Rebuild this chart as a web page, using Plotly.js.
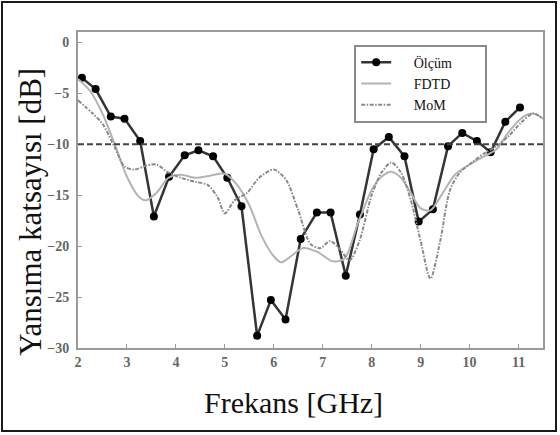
<!DOCTYPE html>
<html>
<head>
<meta charset="utf-8">
<script src="https://cdn.plot.ly/plotly-3.0.1.min.js"></script>
<style>
  html, body { margin: 0; padding: 0; background: #fff; }
  #wrap { position: relative; width: 560px; height: 435px; }
  #chart { width: 560px; height: 435px; }
  #frame { position: absolute; left: 1px; top: 1px; width: 556px; height: 431px;
           border: 2px solid #1a1a1a; box-sizing: border-box; pointer-events: none; }
</style>
</head>
<body>
<div id="wrap">
  <div id="chart"></div>
  <div id="frame"></div>
</div>
<script>
// Measured reflection coefficient (dB) vs frequency (GHz)
const freqOlcum = [2.08, 2.36, 2.67, 2.95, 3.27, 3.55, 3.86, 4.18, 4.46, 4.76, 5.05, 5.34, 5.66, 5.94, 6.24, 6.55,
                   6.88, 7.16, 7.47, 7.76, 8.04, 8.35, 8.67, 8.96, 9.25, 9.56, 9.85, 10.15, 10.43, 10.73, 11.03];
const olcum = [-3.5, -4.6, -7.3, -7.5, -9.7, -17.1, -13.2, -11.1, -10.6, -11.2, -13.3, -16.1, -28.8, -25.3, -27.2, -19.3,
               -16.7, -16.7, -22.9, -16.9, -10.5, -9.3, -11.2, -17.6, -16.4, -10.2, -8.9, -9.7, -10.8, -7.8, -6.4];

// FDTD simulation
const freqFdtd = [2.0, 2.25, 2.5, 2.75, 3.0, 3.25, 3.4, 3.6, 3.85, 4.1, 4.4, 4.7, 5.0, 5.25, 5.5, 5.75, 6.0, 6.15,
                  6.35, 6.6, 6.9, 7.2, 7.45, 7.7, 8.0, 8.2, 8.4, 8.6, 8.8, 9.0, 9.2, 9.45, 9.7, 10.0, 10.3, 10.55,
                  10.8, 11.1, 11.3, 11.5];
const fdtd = [-3.6, -4.8, -7.0, -10.0, -13.2, -15.2, -15.5, -14.8, -13.3, -13.0, -13.3, -13.1, -12.9, -14.0, -16.0,
              -19.0, -21.0, -21.6, -21.0, -20.2, -20.6, -21.5, -21.2, -18.0, -14.5, -13.2, -12.7, -13.3, -14.8, -16.3,
              -16.5, -14.8, -13.0, -12.0, -11.2, -10.5, -8.8, -7.3, -7.0, -7.5];

// MoM simulation
const freqMom = [2.0, 2.3, 2.5, 2.75, 2.95, 3.15, 3.4, 3.6, 3.85, 4.1, 4.4, 4.65, 4.85, 5.0, 5.2, 5.45, 5.7, 6.0,
                 6.25, 6.5, 6.75, 6.95, 7.15, 7.35, 7.55, 7.75, 8.0, 8.2, 8.4, 8.6, 8.8, 9.0, 9.2, 9.4, 9.6, 9.8,
                 10.05, 10.3, 10.55, 10.8, 11.05, 11.3, 11.5];
const mom = [-5.7, -7.0, -8.0, -10.3, -12.2, -12.5, -12.1, -12.0, -12.8, -13.3, -13.7, -14.0, -15.2, -16.8, -15.5,
             -14.8, -13.3, -12.5, -13.5, -16.5, -19.8, -20.2, -19.5, -20.3, -21.4, -19.5, -15.0, -12.8, -11.8, -12.8,
             -15.5, -19.5, -23.2, -19.5, -14.5, -12.8, -11.8, -10.9, -10.2, -9.2, -7.9, -7.0, -7.5];

// -10 dB matching threshold
const threshold = -10;

const xTitle = 'Frekans [GHz]';
const yTitle = 'Yansıma katsayısı [dB]';

const serif = '"Liberation Serif", "Times New Roman", serif';

// legend labels are padded with no-break spaces to open a gap after the line sample
const pad = (s) => '\u00a0'.repeat(5) + s + '\u00a0'.repeat(8);

const traces = [
  {
    x: freqOlcum, y: olcum, name: pad('Ölçüm'), type: 'scatter', mode: 'lines+markers',
    line: { color: '#353535', width: 2.5 },
    marker: { color: '#000', size: 8 }
  },
  {
    x: freqFdtd, y: fdtd, name: pad('FDTD'), type: 'scatter', mode: 'lines',
    line: { color: '#b4b4b4', width: 2, shape: 'spline', smoothing: 0.8 }
  },
  {
    x: freqMom, y: mom, name: pad('MoM'), type: 'scatter', mode: 'lines',
    line: { color: '#8a8a8a', width: 2, dash: '4px,1.5px,1.5px,1.5px', shape: 'spline', smoothing: 0.8 }
  }
];

const axisCommon = {
  showgrid: false, zeroline: false,
  showline: true, mirror: true, linecolor: '#9a9a9a', linewidth: 2,
  ticks: 'inside', ticklen: 4, tickcolor: '#9a9a9a', tickwidth: 1,
  tickfont: { family: serif, size: 14, color: '#666', weight: 'bold' }
};

const layout = {
  width: 560, height: 435,
  margin: { l: 78, r: 17, t: 32, b: 87 },
  paper_bgcolor: '#fff', plot_bgcolor: '#fff',
  showlegend: true,
  legend: {
    x: 0.594, y: 0.96, xanchor: 'left', yanchor: 'top',
    bgcolor: '#fff', bordercolor: '#8a8a8a', borderwidth: 2,
    font: { family: serif, size: 14, color: '#111' }
  },
  xaxis: Object.assign({}, axisCommon, { range: [2, 11.5], dtick: 1, tick0: 2 }),
  yaxis: Object.assign({}, axisCommon, { range: [-30, 1], dtick: 5, tick0: 0, ticklabelstandoff: 4 }),
  // axis titles placed as annotations so they can sit off-centre from the plot area
  annotations: [
    {
      text: xTitle, xref: 'paper', yref: 'paper', x: 0.4645, y: -0.174,
      xanchor: 'center', yanchor: 'middle', showarrow: false,
      font: { family: serif, size: 30, color: '#111' }
    },
    {
      text: yTitle, xref: 'paper', yref: 'paper', x: -0.104, y: 0.43,
      xanchor: 'center', yanchor: 'middle', showarrow: false, textangle: -90,
      font: { family: serif, size: 31, color: '#111' }
    }
  ],
  shapes: [{
    type: 'line', xref: 'paper', x0: 0, x1: 1, yref: 'y', y0: threshold, y1: threshold,
    line: { color: '#444', width: 2, dash: '6px,3px' }, layer: 'above'
  }]
};

Plotly.newPlot('chart', traces, layout, { staticPlot: true });
</script>
</body>
</html>
